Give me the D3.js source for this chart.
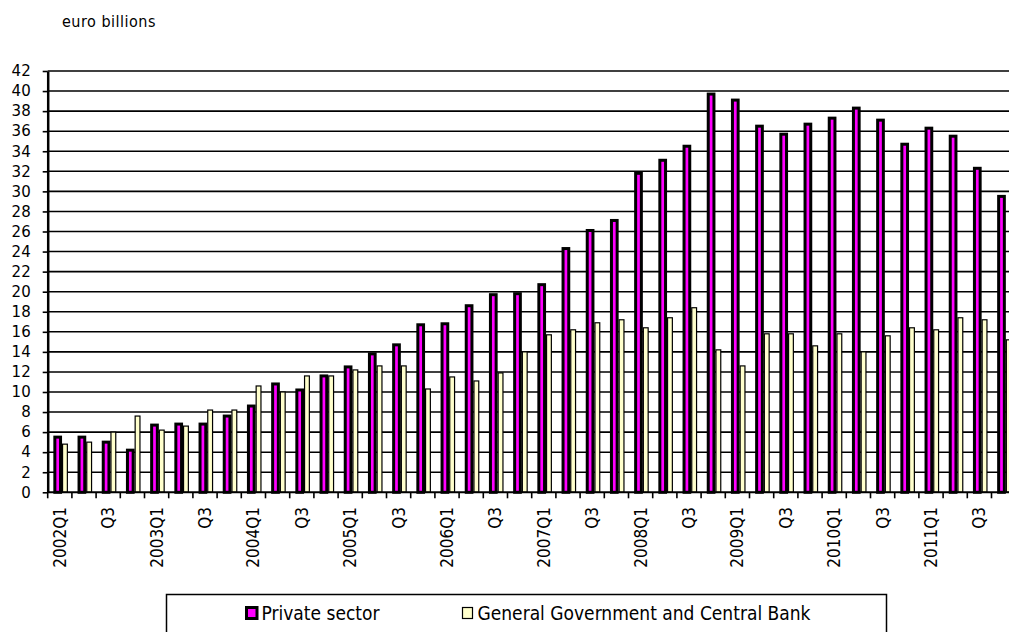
<!DOCTYPE html>
<html>
<head>
<meta charset="utf-8">
<script src="https://cdn.jsdelivr.net/npm/d3@7"></script>
<style>
  body { margin: 0; background: #fff; }
  svg { display: block; }
</style>
</head>
<body>
<div id="chart"></div>
<script>
// quarters on the x axis
const categories = [
  "2002Q1","2002Q2","2002Q3","2002Q4","2003Q1","2003Q2","2003Q3","2003Q4",
  "2004Q1","2004Q2","2004Q3","2004Q4","2005Q1","2005Q2","2005Q3","2005Q4",
  "2006Q1","2006Q2","2006Q3","2006Q4","2007Q1","2007Q2","2007Q3","2007Q4",
  "2008Q1","2008Q2","2008Q3","2008Q4","2009Q1","2009Q2","2009Q3","2009Q4",
  "2010Q1","2010Q2","2010Q3","2010Q4","2011Q1","2011Q2","2011Q3","2011Q4"
]
const tickLabels = [
  "2002Q1","","Q3","","2003Q1","","Q3","",
  "2004Q1","","Q3","","2005Q1","","Q3","",
  "2006Q1","","Q3","","2007Q1","","Q3","",
  "2008Q1","","Q3","","2009Q1","","Q3","",
  "2010Q1","","Q3","","2011Q1","","Q3",""
]
const privateSector = [
  5.5, 5.5, 5.0, 4.2, 6.7, 6.8, 6.8, 7.6,
  8.6, 10.8, 10.2, 11.6, 12.5, 13.8, 14.7, 16.7,
  16.8, 18.6, 19.7, 19.8, 20.7, 24.3, 26.1, 27.1,
  31.8, 33.1, 34.5, 39.7, 39.1, 36.5, 35.7, 36.7,
  37.3, 38.3, 37.1, 34.7, 36.3, 35.5, 32.3, 29.5
]
const government = [
  4.8, 5.0, 6.0, 7.6, 6.2, 6.6, 8.2, 8.2,
  10.6, 10.0, 11.6, 11.6, 12.2, 12.6, 12.6, 10.3,
  11.5, 11.1, 11.9, 14.0, 15.7, 16.2, 16.9, 17.2,
  16.4, 17.4, 18.4, 14.2, 12.6, 15.8, 15.8, 14.6,
  15.8, 14.0, 15.6, 16.4, 16.2, 17.4, 17.2, 15.2
]
const yTicks = d3.range(0, 43, 2)
const seriesNames = ["Private sector", "General Government and Central Bank"]
const colors = ["#ff00ff", "#ffffcc"]

const width = 1009, height = 632

const svg = d3.select("#chart")
  .append("svg")
  .attr("width", width)
  .attr("height", height)

const x = d3.scaleBand()
  .domain(categories)
  .range([47.7, 47.7 + 24.2 * categories.length])
  .paddingInner(0.4)
  .paddingOuter(0.2)

const y = d3.scaleLinear()
  .domain([0, 42])
  .range([492.3, 71])

// unit label
svg.append("text")
  .attr("x", 62)
  .attr("y", 27)
  .style("font-family", "DejaVu Sans Condensed")
  .style("font-size", "16px")
  .style("letter-spacing", "0.5px")
  .text("euro billions")

// horizontal gridlines
svg.append("g")
  .selectAll("line")
  .data(yTicks.slice(1))
  .enter()
  .append("line")
  .attr("x1", x.range()[0])
  .attr("x2", x.range()[1])
  .attr("y1", d => y(d))
  .attr("y2", d => y(d))
  .attr("stroke", "#000")
  .attr("stroke-width", 1.6)

const bw = x.bandwidth()
const pw = bw * 0.6

// private sector bars (thick black outline)
svg.append("g")
  .selectAll("rect")
  .data(privateSector)
  .enter()
  .append("rect")
  .attr("x", (d, i) => x(categories[i]) + 2.3)
  .attr("y", d => y(d))
  .attr("width", pw - 3)
  .attr("height", d => y(0) - y(d))
  .attr("fill", colors[0])
  .attr("stroke", "#000")
  .attr("stroke-width", 3)

// government bars
svg.append("g")
  .selectAll("rect")
  .data(government)
  .enter()
  .append("rect")
  .attr("x", (d, i) => x(categories[i]) + pw + 1.3)
  .attr("y", d => y(d))
  .attr("width", bw - pw - 1)
  .attr("height", d => y(0) - y(d))
  .attr("fill", colors[1])
  .attr("stroke", "#000")
  .attr("stroke-width", 1.2)

// y axis
const yAxis = svg.append("g")
  .attr("transform", "translate(" + x.range()[0] + ",0)")
  .call(d3.axisLeft(y).tickValues(yTicks).tickSize(5).tickPadding(12).tickSizeOuter(0))
yAxis.select(".domain").attr("stroke-width", 2.5)
yAxis.selectAll(".tick line").attr("stroke-width", 1.6)
yAxis.selectAll("text")
  .style("font-family", "DejaVu Sans")
  .style("font-size", "15px")
  .attr("fill", "#000")

// x axis line and boundary ticks
const boundaries = categories.map(c => x(c) - x.step() * x.paddingOuter()).concat([x.range()[1]])
svg.append("line")
  .attr("x1", x.range()[0])
  .attr("x2", x.range()[1])
  .attr("y1", y(0))
  .attr("y2", y(0))
  .attr("stroke", "#000")
  .attr("stroke-width", 2)
svg.append("g")
  .selectAll("line")
  .data(boundaries)
  .enter()
  .append("line")
  .attr("x1", d => d)
  .attr("x2", d => d)
  .attr("y1", y(0))
  .attr("y2", y(0) + 6)
  .attr("stroke", "#000")
  .attr("stroke-width", 1.6)

// x labels, rotated
svg.append("g")
  .selectAll("text")
  .data(tickLabels)
  .enter()
  .append("text")
  .attr("transform", (d, i) => "translate(" + (x(categories[i]) + bw / 2) + ",507)rotate(-90)")
  .attr("dy", "0.35em")
  .style("text-anchor", "end")
  .style("font-family", "DejaVu Sans Condensed")
  .style("font-size", "17px")
  .text(d => d)

// legend
const legend = svg.append("g")
legend.append("rect")
  .attr("x", 166.5)
  .attr("y", 594.5)
  .attr("width", 720)
  .attr("height", 60)
  .attr("fill", "#fff")
  .attr("stroke", "#000")
  .attr("stroke-width", 1.5)
const legendX = [246.5, 462.5]
seriesNames.forEach((name, i) => {
  legend.append("rect")
    .attr("x", legendX[i])
    .attr("y", 607.5)
    .attr("width", i == 0 ? 10.5 : 10)
    .attr("height", 11)
    .attr("fill", colors[i])
    .attr("stroke", "#000")
    .attr("stroke-width", i == 0 ? 3 : 1.2)
  legend.append("text")
    .attr("x", legendX[i] + 15)
    .attr("y", 620)
    .style("font-family", "DejaVu Sans Condensed")
    .style("font-size", "19px")
    .text(name)
})
</script>
</body>
</html>
